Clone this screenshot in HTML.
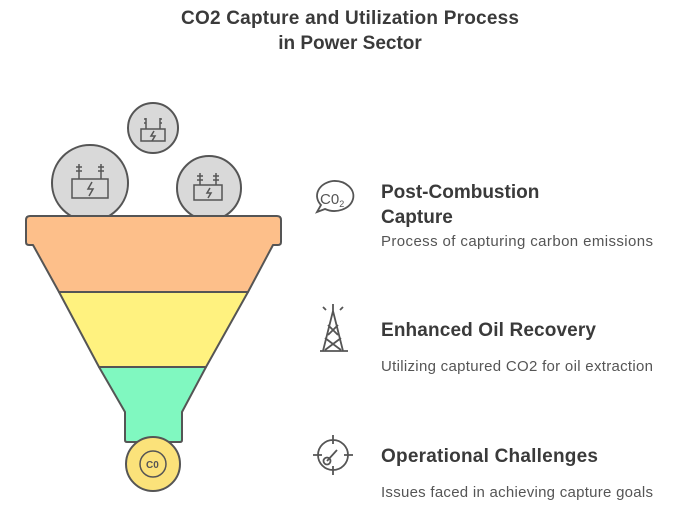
<!DOCTYPE html>
<html><head><style>
body{margin:0;background:#fff;width:693px;height:513px;overflow:hidden;font-family:"Liberation Sans",sans-serif;}
svg{position:absolute;left:0;top:0}
</style></head><body>
<svg width="693" height="513" viewBox="0 0 693 513" xmlns="http://www.w3.org/2000/svg" font-family="Liberation Sans, sans-serif">
<text x="350" y="24" text-anchor="middle" font-size="19" font-weight="bold" fill="#3a3a3a" textLength="338">CO2 Capture and Utilization Process</text>
<text x="350" y="49" text-anchor="middle" font-size="19" font-weight="bold" fill="#3a3a3a">in Power Sector</text>
<g stroke="#555" stroke-width="2">
<circle cx="153" cy="128" r="25" fill="#d9d9d9"/>
<circle cx="90" cy="183" r="38" fill="#d9d9d9"/>
<circle cx="209" cy="188" r="32" fill="#d9d9d9"/>
<path d="M33 245 L59 292 L248 292 L273 245 L278 245 Q281 245 281 242 L281 220 Q281 216 277 216 L30 216 Q26 216 26 220 L26 242 Q26 245 29 245 Z" fill="#fdbf8a" stroke-linejoin="round"/>
<path d="M59 292 L248 292 L206 367 L99 367 Z" fill="#fff27f" stroke-linejoin="round"/>
<path d="M99 367 L206 367 L182 412 L182 440 Q182 442 180 442 L127 442 Q125 442 125 440 L125 412 Z" fill="#80f8c0" stroke-linejoin="round"/>
<circle cx="153" cy="464" r="27" fill="#fbe27a"/>
</g>
<g fill="none" stroke="#555" stroke-width="1.5">
<rect x="141" y="129" width="24" height="12"/><path d="M146 118v11M160 118v11M146 119h-2M146 123h-2M160 119h2M160 123h2M154 131l-3 5h4l-3 5"/>
<rect x="72" y="179" width="36" height="19"/><path d="M79 164v15M101 164v15M76 167h6M76 171h6M98 167h6M98 171h6M92 182l-4 7h5l-4 7"/>
<rect x="194" y="185" width="28" height="15"/><path d="M200 173v12M216 173v12M197 176h6M197 180h6M213 176h6M213 180h6M210 188l-3 5h4l-3 5"/>
<circle cx="153" cy="464" r="13"/>
</g>
<text x="146" y="468" font-size="10" fill="#555" font-weight="bold">C0</text>
<g fill="none" stroke="#555" stroke-width="1.8">
<path d="M333 181a19 15 0 1 1 -8 28l-8 3 4-7a19 15 0 0 1 12-24z"/>
<path d="M333 304v7M323 307l3 3M343 307l-3 3M333 311l-10 40M333 311l10 40M320 351h28M328 325l10 10M338 325l-10 10M325 338l16 12M341 338l-16 12"/>
<circle cx="333" cy="455" r="15"/><path d="M333 435v9M333 466v9M313 455h9M344 455h9M327 461l10-11"/><circle cx="327" cy="461" r="3.5"/>
</g>
<text x="320" y="204" font-size="15" fill="#555">C0<tspan font-size="9" dy="3">2</tspan></text>
<g fill="#3a3a3a" font-size="19" font-weight="bold">
<text x="381" y="198">Post-Combustion</text>
<text x="381" y="223">Capture</text>
<text x="381" y="336" textLength="215">Enhanced Oil Recovery</text>
<text x="381" y="462" textLength="217">Operational Challenges</text>
</g>
<g fill="#555" font-size="15">
<text x="381" y="246" textLength="272">Process of capturing carbon emissions</text>
<text x="381" y="371" textLength="272">Utilizing captured CO2 for oil extraction</text>
<text x="381" y="497" textLength="272">Issues faced in achieving capture goals</text>
</g>
</svg>
</body></html>
